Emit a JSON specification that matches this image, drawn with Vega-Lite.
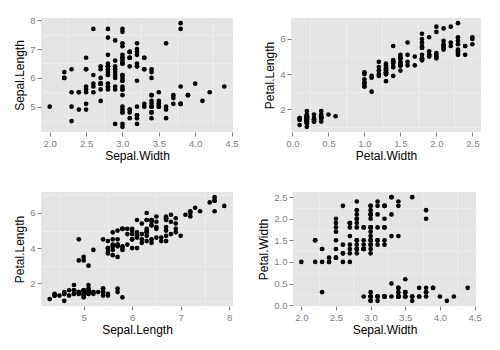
{
  "$schema": "https://vega.github.io/schema/vega-lite/v6.json",
  "background": "#FFFFFF",
  "padding": {"left": 13, "top": 15, "right": 17, "bottom": 8},
  "config": {
    "view": {"fill": "#E5E5E5", "stroke": null},
    "axis": {
      "domain": false,
      "grid": true,
      "gridColor": "#FFFFFF",
      "gridWidth": 1.1,
      "tickColor": "#7F7F7F",
      "tickSize": 4,
      "labelColor": "#7F7F7F",
      "labelFont": "Liberation Sans",
      "labelFontSize": 9.6,
      "labelPadding": 2,
      "titleFont": "Liberation Sans",
      "titleFontSize": 12,
      "titleFontWeight": "normal",
      "titleColor": "#000000",
      "titlePadding": 3
    },
    "point": {"filled": true, "color": "#000000", "opacity": 1, "size": 22},
    "concat": {"spacing": 24}
  },
  "datasets": {
    "iris": [
      {"sl":5.1,"sw":3.5,"pl":1.4,"pw":0.2},{"sl":4.9,"sw":3.0,"pl":1.4,"pw":0.2},{"sl":4.7,"sw":3.2,"pl":1.3,"pw":0.2},{"sl":4.6,"sw":3.1,"pl":1.5,"pw":0.2},{"sl":5.0,"sw":3.6,"pl":1.4,"pw":0.2},
      {"sl":5.4,"sw":3.9,"pl":1.7,"pw":0.4},{"sl":4.6,"sw":3.4,"pl":1.4,"pw":0.3},{"sl":5.0,"sw":3.4,"pl":1.5,"pw":0.2},{"sl":4.4,"sw":2.9,"pl":1.4,"pw":0.2},{"sl":4.9,"sw":3.1,"pl":1.5,"pw":0.1},
      {"sl":5.4,"sw":3.7,"pl":1.5,"pw":0.2},{"sl":4.8,"sw":3.4,"pl":1.6,"pw":0.2},{"sl":4.8,"sw":3.0,"pl":1.4,"pw":0.1},{"sl":4.3,"sw":3.0,"pl":1.1,"pw":0.1},{"sl":5.8,"sw":4.0,"pl":1.2,"pw":0.2},
      {"sl":5.7,"sw":4.4,"pl":1.5,"pw":0.4},{"sl":5.4,"sw":3.9,"pl":1.3,"pw":0.4},{"sl":5.1,"sw":3.5,"pl":1.4,"pw":0.3},{"sl":5.7,"sw":3.8,"pl":1.7,"pw":0.3},{"sl":5.1,"sw":3.8,"pl":1.5,"pw":0.3},
      {"sl":5.4,"sw":3.4,"pl":1.7,"pw":0.2},{"sl":5.1,"sw":3.7,"pl":1.5,"pw":0.4},{"sl":4.6,"sw":3.6,"pl":1.0,"pw":0.2},{"sl":5.1,"sw":3.3,"pl":1.7,"pw":0.5},{"sl":4.8,"sw":3.4,"pl":1.9,"pw":0.2},
      {"sl":5.0,"sw":3.0,"pl":1.6,"pw":0.2},{"sl":5.0,"sw":3.4,"pl":1.6,"pw":0.4},{"sl":5.2,"sw":3.5,"pl":1.5,"pw":0.2},{"sl":5.2,"sw":3.4,"pl":1.4,"pw":0.2},{"sl":4.7,"sw":3.2,"pl":1.6,"pw":0.2},
      {"sl":4.8,"sw":3.1,"pl":1.6,"pw":0.2},{"sl":5.4,"sw":3.4,"pl":1.5,"pw":0.4},{"sl":5.2,"sw":4.1,"pl":1.5,"pw":0.1},{"sl":5.5,"sw":4.2,"pl":1.4,"pw":0.2},{"sl":4.9,"sw":3.1,"pl":1.5,"pw":0.2},
      {"sl":5.0,"sw":3.2,"pl":1.2,"pw":0.2},{"sl":5.5,"sw":3.5,"pl":1.3,"pw":0.2},{"sl":4.9,"sw":3.6,"pl":1.4,"pw":0.1},{"sl":4.4,"sw":3.0,"pl":1.3,"pw":0.2},{"sl":5.1,"sw":3.4,"pl":1.5,"pw":0.2},
      {"sl":5.0,"sw":3.5,"pl":1.3,"pw":0.3},{"sl":4.5,"sw":2.3,"pl":1.3,"pw":0.3},{"sl":4.4,"sw":3.2,"pl":1.3,"pw":0.2},{"sl":5.0,"sw":3.5,"pl":1.6,"pw":0.6},{"sl":5.1,"sw":3.8,"pl":1.9,"pw":0.4},
      {"sl":4.8,"sw":3.0,"pl":1.4,"pw":0.3},{"sl":5.1,"sw":3.8,"pl":1.6,"pw":0.2},{"sl":4.6,"sw":3.2,"pl":1.4,"pw":0.2},{"sl":5.3,"sw":3.7,"pl":1.5,"pw":0.2},{"sl":5.0,"sw":3.3,"pl":1.4,"pw":0.2},
      {"sl":7.0,"sw":3.2,"pl":4.7,"pw":1.4},{"sl":6.4,"sw":3.2,"pl":4.5,"pw":1.5},{"sl":6.9,"sw":3.1,"pl":4.9,"pw":1.5},{"sl":5.5,"sw":2.3,"pl":4.0,"pw":1.3},{"sl":6.5,"sw":2.8,"pl":4.6,"pw":1.5},
      {"sl":5.7,"sw":2.8,"pl":4.5,"pw":1.3},{"sl":6.3,"sw":3.3,"pl":4.7,"pw":1.6},{"sl":4.9,"sw":2.4,"pl":3.3,"pw":1.0},{"sl":6.6,"sw":2.9,"pl":4.6,"pw":1.3},{"sl":5.2,"sw":2.7,"pl":3.9,"pw":1.4},
      {"sl":5.0,"sw":2.0,"pl":3.5,"pw":1.0},{"sl":5.9,"sw":3.0,"pl":4.2,"pw":1.5},{"sl":6.0,"sw":2.2,"pl":4.0,"pw":1.0},{"sl":6.1,"sw":2.9,"pl":4.7,"pw":1.4},{"sl":5.6,"sw":2.9,"pl":3.6,"pw":1.3},
      {"sl":6.7,"sw":3.1,"pl":4.4,"pw":1.4},{"sl":5.6,"sw":3.0,"pl":4.5,"pw":1.5},{"sl":5.8,"sw":2.7,"pl":4.1,"pw":1.0},{"sl":6.2,"sw":2.2,"pl":4.5,"pw":1.5},{"sl":5.6,"sw":2.5,"pl":3.9,"pw":1.1},
      {"sl":5.9,"sw":3.2,"pl":4.8,"pw":1.8},{"sl":6.1,"sw":2.8,"pl":4.0,"pw":1.3},{"sl":6.3,"sw":2.5,"pl":4.9,"pw":1.5},{"sl":6.1,"sw":2.8,"pl":4.7,"pw":1.2},{"sl":6.4,"sw":2.9,"pl":4.3,"pw":1.3},
      {"sl":6.6,"sw":3.0,"pl":4.4,"pw":1.4},{"sl":6.8,"sw":2.8,"pl":4.8,"pw":1.4},{"sl":6.7,"sw":3.0,"pl":5.0,"pw":1.7},{"sl":6.0,"sw":2.9,"pl":4.5,"pw":1.5},{"sl":5.7,"sw":2.6,"pl":3.5,"pw":1.0},
      {"sl":5.5,"sw":2.4,"pl":3.8,"pw":1.1},{"sl":5.5,"sw":2.4,"pl":3.7,"pw":1.0},{"sl":5.8,"sw":2.7,"pl":3.9,"pw":1.2},{"sl":6.0,"sw":2.7,"pl":5.1,"pw":1.6},{"sl":5.4,"sw":3.0,"pl":4.5,"pw":1.5},
      {"sl":6.0,"sw":3.4,"pl":4.5,"pw":1.6},{"sl":6.7,"sw":3.1,"pl":4.7,"pw":1.5},{"sl":6.3,"sw":2.3,"pl":4.4,"pw":1.3},{"sl":5.6,"sw":3.0,"pl":4.1,"pw":1.3},{"sl":5.5,"sw":2.5,"pl":4.0,"pw":1.3},
      {"sl":5.5,"sw":2.6,"pl":4.4,"pw":1.2},{"sl":6.1,"sw":3.0,"pl":4.6,"pw":1.4},{"sl":5.8,"sw":2.6,"pl":4.0,"pw":1.2},{"sl":5.0,"sw":2.3,"pl":3.3,"pw":1.0},{"sl":5.6,"sw":2.7,"pl":4.2,"pw":1.3},
      {"sl":5.7,"sw":3.0,"pl":4.2,"pw":1.2},{"sl":5.7,"sw":2.9,"pl":4.2,"pw":1.3},{"sl":6.2,"sw":2.9,"pl":4.3,"pw":1.3},{"sl":5.1,"sw":2.5,"pl":3.0,"pw":1.1},{"sl":5.7,"sw":2.8,"pl":4.1,"pw":1.3},
      {"sl":6.3,"sw":3.3,"pl":6.0,"pw":2.5},{"sl":5.8,"sw":2.7,"pl":5.1,"pw":1.9},{"sl":7.1,"sw":3.0,"pl":5.9,"pw":2.1},{"sl":6.3,"sw":2.9,"pl":5.6,"pw":1.8},{"sl":6.5,"sw":3.0,"pl":5.8,"pw":2.2},
      {"sl":7.6,"sw":3.0,"pl":6.6,"pw":2.1},{"sl":4.9,"sw":2.5,"pl":4.5,"pw":1.7},{"sl":7.3,"sw":2.9,"pl":6.3,"pw":1.8},{"sl":6.7,"sw":2.5,"pl":5.8,"pw":1.8},{"sl":7.2,"sw":3.6,"pl":6.1,"pw":2.5},
      {"sl":6.5,"sw":3.2,"pl":5.1,"pw":2.0},{"sl":6.4,"sw":2.7,"pl":5.3,"pw":1.9},{"sl":6.8,"sw":3.0,"pl":5.5,"pw":2.1},{"sl":5.7,"sw":2.5,"pl":5.0,"pw":2.0},{"sl":5.8,"sw":2.8,"pl":5.1,"pw":2.4},
      {"sl":6.4,"sw":3.2,"pl":5.3,"pw":2.3},{"sl":6.5,"sw":3.0,"pl":5.5,"pw":1.8},{"sl":7.7,"sw":3.8,"pl":6.7,"pw":2.2},{"sl":7.7,"sw":2.6,"pl":6.9,"pw":2.3},{"sl":6.0,"sw":2.2,"pl":5.0,"pw":1.5},
      {"sl":6.9,"sw":3.2,"pl":5.7,"pw":2.3},{"sl":5.6,"sw":2.8,"pl":4.9,"pw":2.0},{"sl":7.7,"sw":2.8,"pl":6.7,"pw":2.0},{"sl":6.3,"sw":2.7,"pl":4.9,"pw":1.8},{"sl":6.7,"sw":3.3,"pl":5.7,"pw":2.1},
      {"sl":7.2,"sw":3.2,"pl":6.0,"pw":1.8},{"sl":6.2,"sw":2.8,"pl":4.8,"pw":1.8},{"sl":6.1,"sw":3.0,"pl":4.9,"pw":1.8},{"sl":6.4,"sw":2.8,"pl":5.6,"pw":2.1},{"sl":7.2,"sw":3.0,"pl":5.8,"pw":1.6},
      {"sl":7.4,"sw":2.8,"pl":6.1,"pw":1.9},{"sl":7.9,"sw":3.8,"pl":6.4,"pw":2.0},{"sl":6.4,"sw":2.8,"pl":5.6,"pw":2.2},{"sl":6.3,"sw":2.8,"pl":5.1,"pw":1.5},{"sl":6.1,"sw":2.6,"pl":5.6,"pw":1.4},
      {"sl":7.7,"sw":3.0,"pl":6.1,"pw":2.3},{"sl":6.3,"sw":3.4,"pl":5.6,"pw":2.4},{"sl":6.4,"sw":3.1,"pl":5.5,"pw":1.8},{"sl":6.0,"sw":3.0,"pl":4.8,"pw":1.8},{"sl":6.9,"sw":3.1,"pl":5.4,"pw":2.1},
      {"sl":6.7,"sw":3.1,"pl":5.6,"pw":2.4},{"sl":6.9,"sw":3.1,"pl":5.1,"pw":2.3},{"sl":5.8,"sw":2.7,"pl":5.1,"pw":1.9},{"sl":6.8,"sw":3.2,"pl":5.9,"pw":2.3},{"sl":6.7,"sw":3.3,"pl":5.7,"pw":2.5},
      {"sl":6.7,"sw":3.0,"pl":5.2,"pw":2.3},{"sl":6.3,"sw":2.5,"pl":5.0,"pw":1.9},{"sl":6.5,"sw":3.0,"pl":5.2,"pw":2.0},{"sl":6.2,"sw":3.4,"pl":5.4,"pw":2.3},{"sl":5.9,"sw":3.0,"pl":5.1,"pw":1.8}
    ]
  },
  "spacing": 30,
  "vconcat": [
    {
      "hconcat": [
        {
          "width": 192, "height": 114,
          "data": {"name": "iris"},
          "resolve": {"axis": {"x": "independent", "y": "independent"}},
          "layer": [
            {
              "mark": {"type": "point", "opacity": 0},
              "encoding": {
                "x": {"field": "sw", "type": "quantitative", "scale": {"domain": [1.88, 4.52], "nice": false, "zero": false},
                      "axis": {"orient": "bottom", "title": null, "labels": false, "ticks": false, "values": [2.25, 2.75, 3.25, 3.75, 4.25], "gridColor": "#F2F2F2", "gridWidth": 0.6}},
                "y": {"field": "sl", "type": "quantitative", "scale": {"domain": [4.12, 8.08], "nice": false, "zero": false},
                      "axis": {"orient": "left", "title": null, "labels": false, "ticks": false, "values": [4.5, 5.5, 6.5, 7.5], "gridColor": "#F2F2F2", "gridWidth": 0.6}}
              }
            },
            {
              "mark": "point",
              "encoding": {
                "x": {"field": "sw", "type": "quantitative", "axis": {"orient": "bottom", "title": "Sepal.Width", "values": [2, 2.5, 3, 3.5, 4, 4.5], "format": ".1f"}},
                "y": {"field": "sl", "type": "quantitative", "axis": {"orient": "left", "title": "Sepal.Length", "values": [5, 6, 7, 8], "format": "d"}}
              }
            }
          ]
        },
        {
          "width": 190, "height": 114,
          "data": {"name": "iris"},
          "resolve": {"axis": {"x": "independent", "y": "independent"}},
          "layer": [
            {
              "mark": {"type": "point", "opacity": 0},
              "encoding": {
                "x": {"field": "pw", "type": "quantitative", "scale": {"domain": [-0.02, 2.62], "nice": false, "zero": false},
                      "axis": {"orient": "bottom", "title": null, "labels": false, "ticks": false, "values": [0.25, 0.75, 1.25, 1.75, 2.25], "gridColor": "#F2F2F2", "gridWidth": 0.6}},
                "y": {"field": "pl", "type": "quantitative", "scale": {"domain": [0.705, 7.195], "nice": false, "zero": false},
                      "axis": {"orient": "left", "title": null, "labels": false, "ticks": false, "values": [1, 3, 5, 7], "gridColor": "#F2F2F2", "gridWidth": 0.6}}
              }
            },
            {
              "mark": "point",
              "encoding": {
                "x": {"field": "pw", "type": "quantitative", "axis": {"orient": "bottom", "title": "Petal.Width", "values": [0, 0.5, 1, 1.5, 2, 2.5], "format": ".1f"}},
                "y": {"field": "pl", "type": "quantitative", "axis": {"orient": "left", "title": "Petal.Length", "values": [2, 4, 6], "format": "d"}}
              }
            }
          ]
        }
      ]
    },
    {
      "hconcat": [
        {
          "width": 192, "height": 114,
          "data": {"name": "iris"},
          "resolve": {"axis": {"x": "independent", "y": "independent"}},
          "layer": [
            {
              "mark": {"type": "point", "opacity": 0},
              "encoding": {
                "x": {"field": "sl", "type": "quantitative", "scale": {"domain": [4.12, 8.08], "nice": false, "zero": false},
                      "axis": {"orient": "bottom", "title": null, "labels": false, "ticks": false, "values": [4.5, 5.5, 6.5, 7.5], "gridColor": "#F2F2F2", "gridWidth": 0.6}},
                "y": {"field": "pl", "type": "quantitative", "scale": {"domain": [0.705, 7.195], "nice": false, "zero": false},
                      "axis": {"orient": "left", "title": null, "labels": false, "ticks": false, "values": [1, 3, 5, 7], "gridColor": "#F2F2F2", "gridWidth": 0.6}}
              }
            },
            {
              "mark": "point",
              "encoding": {
                "x": {"field": "sl", "type": "quantitative", "axis": {"orient": "bottom", "title": "Sepal.Length", "values": [5, 6, 7, 8], "format": "d"}},
                "y": {"field": "pl", "type": "quantitative", "axis": {"orient": "left", "title": "Petal.Length", "values": [2, 4, 6], "format": "d"}}
              }
            }
          ]
        },
        {
          "width": 183, "height": 114,
          "data": {"name": "iris"},
          "resolve": {"axis": {"x": "independent", "y": "independent"}},
          "layer": [
            {
              "mark": {"type": "point", "opacity": 0},
              "encoding": {
                "x": {"field": "sw", "type": "quantitative", "scale": {"domain": [1.88, 4.52], "nice": false, "zero": false},
                      "axis": {"orient": "bottom", "title": null, "labels": false, "ticks": false, "values": [2.25, 2.75, 3.25, 3.75, 4.25], "gridColor": "#F2F2F2", "gridWidth": 0.6}},
                "y": {"field": "pw", "type": "quantitative", "scale": {"domain": [-0.02, 2.62], "nice": false, "zero": false},
                      "axis": {"orient": "left", "title": null, "labels": false, "ticks": false, "values": [0.25, 0.75, 1.25, 1.75, 2.25], "gridColor": "#F2F2F2", "gridWidth": 0.6}}
              }
            },
            {
              "mark": "point",
              "encoding": {
                "x": {"field": "sw", "type": "quantitative", "axis": {"orient": "bottom", "title": "Sepal.Width", "values": [2, 2.5, 3, 3.5, 4, 4.5], "format": ".1f"}},
                "y": {"field": "pw", "type": "quantitative", "axis": {"orient": "left", "title": "Petal.Width", "values": [0, 0.5, 1, 1.5, 2, 2.5], "format": ".1f"}}
              }
            }
          ]
        }
      ]
    }
  ]
}
